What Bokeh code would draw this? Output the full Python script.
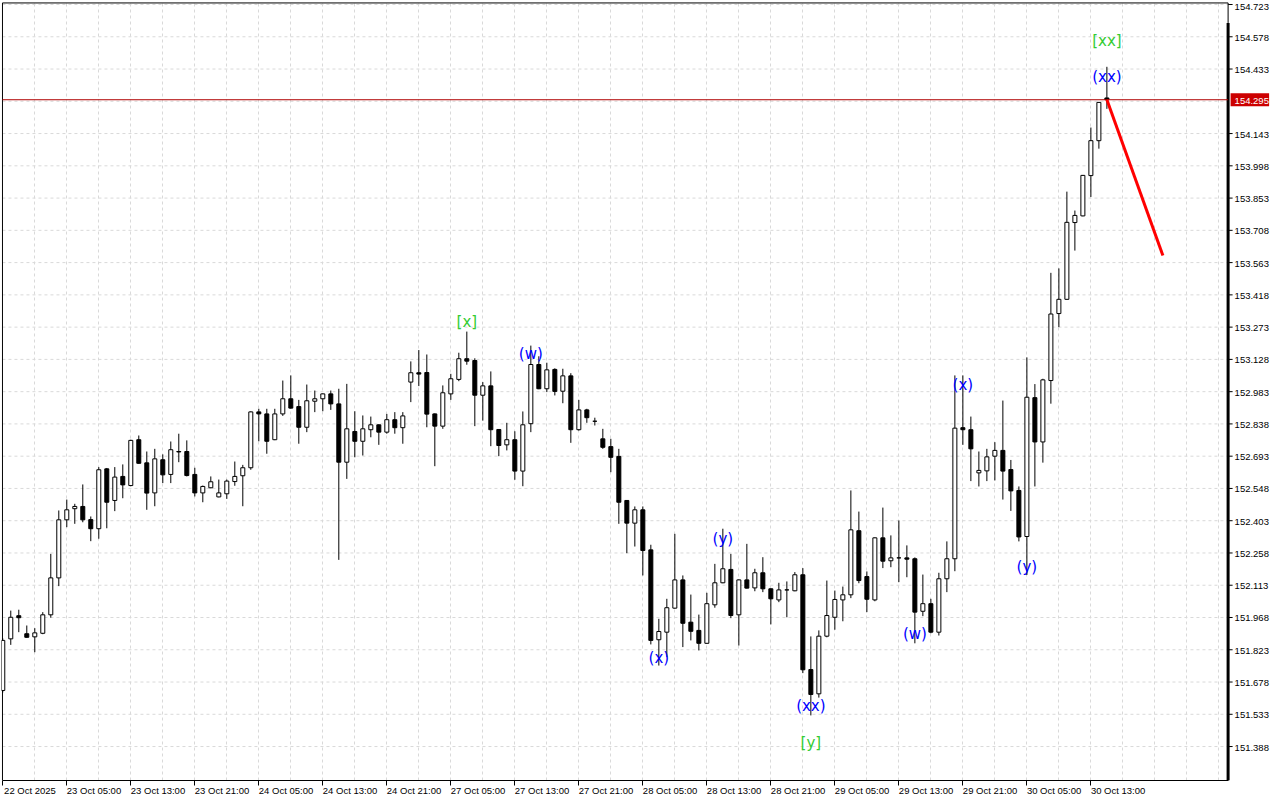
from bokeh.plotting import figure
from bokeh.models import FixedTicker, Range1d, ColumnDataSource
from bokeh.embed import file_html
from bokeh.resources import INLINE
from bokeh.core.properties import value

# ---------------- data ----------------
opens = [151.640, 151.872, 151.976, 151.895, 151.881, 151.897, 151.980, 152.146, 152.407, 152.457,
         152.467, 152.408, 152.367, 152.636, 152.494, 152.602, 152.561, 152.767, 152.663, 152.528,
         152.677, 152.611, 152.714, 152.714, 152.611, 152.528, 152.551, 152.510, 152.524, 152.579,
         152.605, 152.641, 152.892, 152.883, 152.767, 152.883, 152.951, 152.916, 152.823, 152.940,
         152.951, 152.973, 152.928, 152.666, 152.804, 152.760, 152.812, 152.834, 152.801, 152.857,
         152.821, 153.026, 153.068, 153.069, 152.883, 152.828, 152.973, 153.038, 153.131, 153.123,
         152.967, 153.009, 152.813, 152.744, 152.767, 152.626, 152.839, 153.105, 152.996, 153.083,
         152.985, 153.054, 152.812, 152.901, 152.850, 152.771, 152.736, 152.692, 152.494, 152.392,
         152.452, 152.272, 151.868, 151.902, 152.010, 152.137, 151.947, 151.910, 151.852, 152.025,
         152.124, 152.184, 151.980, 152.137, 152.101, 152.169, 152.097, 152.047, 152.092, 152.088,
         152.160, 151.734, 151.625, 151.884, 151.969, 152.047, 152.070, 152.358, 152.152, 152.047,
         152.326, 152.223, 152.236, 152.236, 152.232, 151.996, 152.030, 151.902, 152.142, 152.232,
         152.821, 152.812, 152.618, 152.627, 152.693, 152.719, 152.633, 152.539, 152.332, 152.956,
         152.757, 153.033, 153.334, 153.398, 153.743, 153.773, 153.954, 154.111, 154.303]
highs = [151.874, 151.999, 152.003, 151.932, 151.920, 151.992, 152.254, 152.449, 152.498, 152.479,
         152.566, 152.422, 152.644, 152.640, 152.644, 152.656, 152.767, 152.786, 152.714, 152.726,
         152.701, 152.759, 152.794, 152.764, 152.641, 152.561, 152.602, 152.588, 152.588, 152.669,
         152.654, 152.894, 152.906, 152.906, 152.906, 153.033, 153.056, 152.946, 153.015, 152.988,
         152.975, 152.988, 152.996, 153.018, 152.895, 152.876, 152.871, 152.836, 152.883, 152.891,
         152.891, 153.119, 153.170, 153.150, 152.885, 153.011, 153.063, 153.158, 153.253, 153.133,
         153.026, 153.074, 152.815, 152.843, 152.805, 152.894, 153.190, 153.142, 153.113, 153.088,
         153.086, 153.066, 152.946, 152.906, 152.866, 152.816, 152.771, 152.726, 152.496, 152.467,
         152.467, 152.295, 151.962, 152.052, 152.344, 152.157, 152.071, 151.981, 152.079, 152.209,
         152.367, 152.254, 152.139, 152.299, 152.187, 152.239, 152.099, 152.124, 152.130, 152.172,
         152.190, 151.883, 151.910, 152.134, 152.089, 152.107, 152.539, 152.444, 152.175, 152.328,
         152.462, 152.337, 152.404, 152.292, 152.238, 152.161, 152.052, 152.169, 152.310, 153.056,
         153.056, 152.871, 152.714, 152.726, 152.756, 152.943, 152.676, 152.557, 153.137, 153.017,
         153.041, 153.517, 153.537, 153.882, 153.797, 153.957, 154.170, 154.285, 154.443]
lows = [151.631, 151.845, 151.902, 151.877, 151.812, 151.893, 151.967, 152.109, 152.374, 152.389,
        152.396, 152.311, 152.322, 152.369, 152.446, 152.504, 152.558, 152.659, 152.452, 152.468,
        152.572, 152.572, 152.666, 152.602, 152.512, 152.486, 152.549, 152.508, 152.501, 152.560,
        152.468, 152.632, 152.760, 152.704, 152.765, 152.874, 152.907, 152.749, 152.801, 152.891,
        152.895, 152.901, 152.227, 152.591, 152.688, 152.696, 152.778, 152.744, 152.794, 152.794,
        152.749, 152.936, 153.008, 152.823, 152.648, 152.816, 152.946, 153.030, 153.104, 152.828,
        152.853, 152.738, 152.693, 152.719, 152.587, 152.558, 152.801, 152.994, 152.981, 152.966,
        152.931, 152.753, 152.808, 152.843, 152.831, 152.726, 152.621, 152.389, 152.257, 152.287,
        152.157, 151.847, 151.752, 151.790, 152.008, 151.835, 151.865, 151.820, 151.850, 152.012,
        152.122, 151.965, 151.842, 152.098, 152.086, 152.082, 151.937, 152.037, 151.969, 152.086,
        151.718, 151.528, 151.608, 151.879, 151.913, 151.951, 152.055, 152.122, 151.992, 152.041,
        152.190, 152.194, 152.127, 152.149, 151.852, 151.974, 151.897, 151.887, 152.082, 152.176,
        152.744, 152.581, 152.557, 152.581, 152.584, 152.498, 152.447, 152.310, 152.159, 152.557,
        152.664, 152.929, 153.273, 153.396, 153.617, 153.771, 153.858, 154.075, 154.254]
closes = [151.865, 151.969, 151.967, 151.879, 151.899, 151.980, 152.146, 152.407, 152.452, 152.467,
          152.407, 152.367, 152.632, 152.486, 152.599, 152.564, 152.764, 152.661, 152.527, 152.681,
          152.609, 152.722, 152.712, 152.606, 152.528, 152.557, 152.578, 152.528, 152.581, 152.602,
          152.641, 152.892, 152.883, 152.760, 152.883, 152.951, 152.909, 152.823, 152.942, 152.951,
          152.973, 152.928, 152.666, 152.816, 152.760, 152.816, 152.834, 152.801, 152.857, 152.821,
          152.874, 153.068, 153.062, 152.882, 152.828, 152.978, 153.041, 153.131, 153.120, 152.967,
          153.009, 152.812, 152.741, 152.767, 152.626, 152.834, 153.105, 152.996, 153.081, 152.984,
          153.054, 152.812, 152.901, 152.866, 152.850, 152.733, 152.688, 152.486, 152.392, 152.452,
          152.269, 151.865, 151.905, 152.012, 152.137, 151.942, 151.906, 151.852, 152.030, 152.124,
          152.187, 151.977, 152.137, 152.100, 152.169, 152.097, 152.052, 152.092, 152.092, 152.160,
          151.733, 151.622, 151.884, 151.977, 152.049, 152.070, 152.362, 152.134, 152.050, 152.326,
          152.221, 152.236, 152.236, 152.230, 151.992, 152.030, 151.902, 152.142, 152.232, 152.819,
          152.812, 152.726, 152.629, 152.690, 152.719, 152.626, 152.537, 152.330, 152.958, 152.757,
          153.036, 153.332, 153.398, 153.744, 153.775, 153.955, 154.111, 154.283, 154.295]

time_labels = ["22 Oct 2025", "23 Oct 05:00", "23 Oct 13:00", "23 Oct 21:00", "24 Oct 05:00",
               "24 Oct 13:00", "24 Oct 21:00", "27 Oct 05:00", "27 Oct 13:00", "27 Oct 21:00",
               "28 Oct 05:00", "28 Oct 13:00", "28 Oct 21:00", "29 Oct 05:00", "29 Oct 13:00",
               "29 Oct 21:00", "30 Oct 05:00", "30 Oct 13:00"]
label_every = 8  # bars between time labels

price_ticks = [154.723, 154.578, 154.433, 154.288, 154.143, 153.998, 153.853, 153.708, 153.563,
               153.418, 153.273, 153.128, 152.983, 152.838, 152.693, 152.548, 152.403, 152.258,
               152.113, 151.968, 151.823, 151.678, 151.533, 151.388]
last_price = 154.295

wave_text = ["[xx]", "(xx)", "[x]", "(w)", "(y)", "(x)", "(xx)", "[y]", "(w)", "(x)", "(y)"]
wave_bar = [138, 138, 58, 66, 90, 82, 101, 101, 114, 120, 128]
wave_price = [154.561, 154.395, 153.294, 153.150, 152.323, 151.788, 151.568, 151.402, 151.892,
              153.011, 152.193]
wave_level = ["major", "minor", "major", "minor", "minor", "minor", "minor", "major", "minor",
              "minor", "minor"]

forecast_bar = [138, 145]
forecast_price = [154.295, 153.595]

# ---------------- layout / style constants ----------------
GREEN = "#33cc33"
BLUE = "#0000ff"
AX_FONT = "Liberation Sans"
AX_SIZE = "9.5px"
GRID_COLOR = "#d9d9d9"

X0, X1 = -0.16, 159.7          # visible bar range (8 px per bar)
Y0, Y1 = 151.2354, 154.741     # visible price range (frame 0..780 px)
AXIS_X = 153.15                # price scale line (in bar units)
LEFT_X = -0.04                 # left frame line
TOP_Y = 154.730                # top frame line
BPX = 0.125                    # one pixel in bar units
PPX = 1 / 222.5                # one pixel in price units

n = len(opens)
idx = list(range(n))

p = figure(width=1280, height=800, output_backend="svg", toolbar_location=None,
           x_range=Range1d(X0, X1), y_range=Range1d(Y0, Y1),
           y_axis_location=None, min_border_left=1, min_border_top=0,
           min_border_right=0, min_border_bottom=20)
p.background_fill_color = "white"
p.border_fill_color = "white"
p.outline_line_color = None

# vertical grid (every 4 bars)
p.xgrid[0].ticker = FixedTicker(ticks=list(range(0, 153, 4)))
p.xgrid[0].grid_line_color = GRID_COLOR
p.xgrid[0].grid_line_dash = "3 3"
for g in p.ygrid:
    g.visible = False

# horizontal grid (stops at the price scale)
nt = len(price_ticks)
p.segment(x0=[LEFT_X] * nt, x1=[AXIS_X] * nt, y0=price_ticks, y1=price_ticks,
          line_color=GRID_COLOR, line_dash="3 3", line_width=1, level="underlay")

# bottom time axis (labels start at the tick, like the original)
label_bars = [k * label_every for k in range(len(time_labels))]
centers = [round(b + 3.4, 2) for b in label_bars]
xa = p.xaxis[0]
xa.ticker = FixedTicker(ticks=centers, minor_ticks=label_bars)
xa.major_label_overrides = {c: t for c, t in zip(centers, time_labels)}
xa.bounds = (LEFT_X, AXIS_X)
xa.major_tick_line_color = None
xa.major_tick_out = 0
xa.major_tick_in = 0
xa.minor_tick_line_color = "black"
xa.minor_tick_out = 5
xa.minor_tick_in = 0
xa.axis_line_color = "black"
xa.axis_line_width = 1
xa.major_label_standoff = -1
xa.major_label_text_font = AX_FONT
xa.major_label_text_font_size = AX_SIZE
xa.major_label_text_color = "black"

# frame lines (left, top) and the price scale line
p.segment(x0=[LEFT_X, LEFT_X, AXIS_X, AXIS_X], x1=[LEFT_X, AXIS_X, AXIS_X, AXIS_X],
          y0=[Y0, TOP_Y, TOP_Y, Y0], y1=[TOP_Y, TOP_Y, TOP_Y - 20 * PPX, TOP_Y - 20 * PPX],
          line_color="black", line_width=[1, 1, 1, 3])

# price scale ticks and labels
shown = [t for t in price_ticks if abs(t - last_price) > 0.02]
ns = len(shown)
p.segment(x0=[AXIS_X] * ns, x1=[AXIS_X + 4.5 * BPX] * ns, y0=shown, y1=shown,
          line_color="black", line_width=1)
lab_src = ColumnDataSource(dict(x=[AXIS_X + 6.5 * BPX] * ns, y=shown,
                                t=[f"{t:.3f}" for t in shown],
                                yo=[2 if t == max(shown) else 1 for t in shown]))
p.text(x="x", y="y", text="t", y_offset="yo", source=lab_src,
       text_font=value(AX_FONT), text_font_size=AX_SIZE, text_color="black",
       text_align="left", text_baseline="middle")

# candles
body_top = [max(o, c) for o, c in zip(opens, closes)]
body_bot = [min(o, c) for o, c in zip(opens, closes)]
fills = ["black" if c < o else "white" for o, c in zip(opens, closes)]
src = ColumnDataSource(dict(x=idx, o=opens, h=highs, l=lows, c=closes,
                            top=body_top, bot=body_bot, fill=fills))
p.segment(x0="x", y0="l", x1="x", y1="h", source=src, line_color="black", line_width=1)
p.vbar(x="x", top="top", bottom="bot", width=0.5, source=src,
       fill_color="fill", line_color="black", line_width=1)

# last price line and tag on the scale
p.segment(x0=[LEFT_X], x1=[AXIS_X], y0=[last_price], y1=[last_price],
          line_color="#b00000", line_width=1)
p.quad(left=[AXIS_X + 2.5 * BPX], right=[AXIS_X + 41 * BPX],
       top=[last_price + 6.5 * PPX], bottom=[last_price - 6.5 * PPX],
       fill_color="#cc0000", line_color=None)
p.text(x=[AXIS_X + 6.5 * BPX], y=[last_price], text=[f"{last_price:.3f}"], y_offset=1,
       text_font=value(AX_FONT), text_font_size=AX_SIZE, text_color="white",
       text_align="left", text_baseline="middle")

# forecast line
p.line(forecast_bar, forecast_price, line_color="#ff0000", line_width=3)

# wave labels
wsrc = ColumnDataSource(dict(x=wave_bar, y=wave_price, t=wave_text,
                             col=[GREEN if lv == "major" else BLUE for lv in wave_level]))
p.text(x="x", y="y", text="t", source=wsrc, text_color="col",
       text_font=value("DejaVu Sans"), text_font_size="15px",
       text_align="center", text_baseline="middle")

open("out.html", "w").write(file_html(p, INLINE))
